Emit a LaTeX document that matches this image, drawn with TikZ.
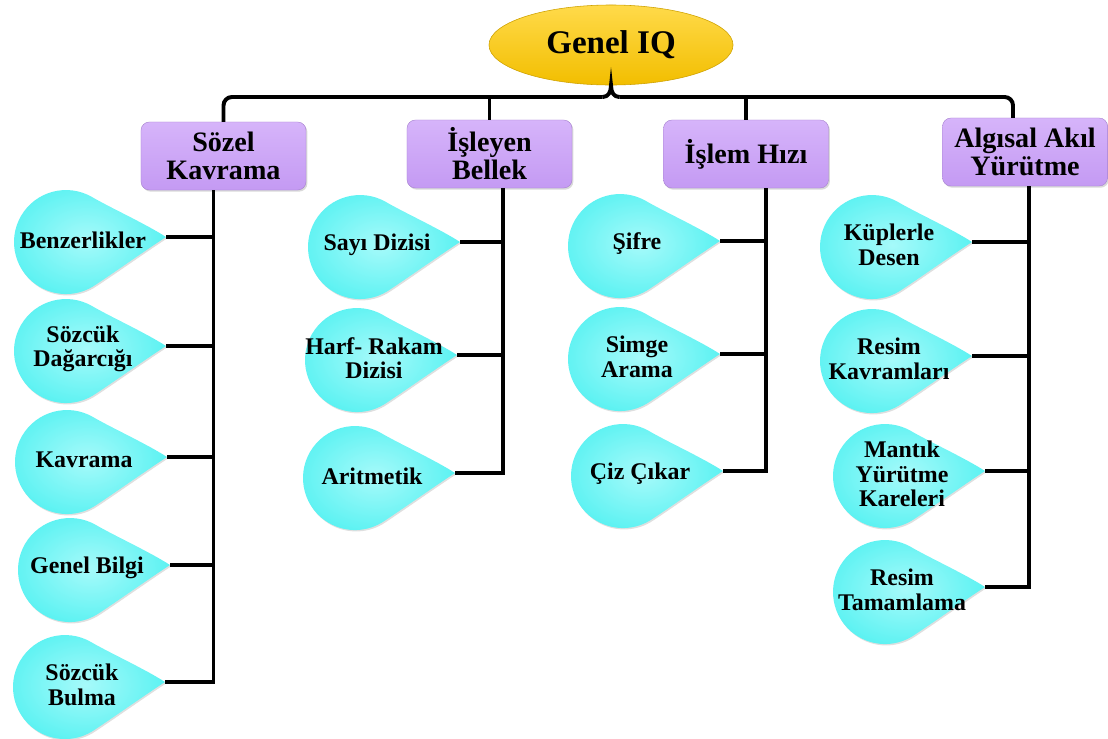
\documentclass[tikz,border=0pt]{standalone}
\usepackage{fontspec}
\setmainfont{Liberation Serif}
\usetikzlibrary{shapes.geometric,shadows,calc}
\definecolor{boxpurple}{HTML}{C49AF3}
\definecolor{boxlight}{HTML}{D6B4FA}
\definecolor{dropcyan}{HTML}{5CF2F2}
\definecolor{droplight}{HTML}{A6FAFA}
\definecolor{iqgold}{HTML}{F2BE00}
\definecolor{iqlight}{HTML}{FFDA4A}
\tikzset{
  link/.style={line width=2.8pt, black},
  head/.style={ellipse, draw=iqgold!85!black, line width=0.4pt, top color=iqlight, bottom color=iqgold,
    minimum width=6.1cm, minimum height=2cm, font=\fontsize{23.5}{24}\selectfont\bfseries},
  group/.style={rectangle, rounded corners=6pt, top color=boxlight, bottom color=boxpurple,
    draw=boxpurple!85!black, line width=0.3pt, drop shadow={opacity=0.3,shadow xshift=1pt,shadow yshift=-1.2pt},
    minimum width=4.125cm, minimum height=1.7cm, align=center, font=\fontsize{20}{20}\selectfont\bfseries},
  dropfill/.style={inner color=droplight, outer color=dropcyan,
    drop shadow={opacity=0.25,shadow xshift=0.8pt,shadow yshift=-1pt}},
  droptext/.style={align=center, inner sep=1pt, font=\fontsize{17}{17.5}\selectfont\bfseries},
  pics/drop/.style={code={
    \path[dropfill] (100,-5) .. controls (80,-18) and (43,-35) .. (26,-45) arc(-60:-305:52)
      .. controls (46,32) and (80,8) .. (100,-5) -- cycle;
    \node[droptext] (-txt) at (17,-2) {#1};
    \coordinate (-tip) at (100,-5);
  }}
}

\begin{document}
\begin{tikzpicture}[x=0.025cm, y=-0.025cm]
  \useasboundingbox (0,0) rectangle (1108,738);

  \node[head] (iq) at (611,45) {Genel IQ};
  \node[group] (sozel) at (223.5,156) {Sözel\\Kavrama};
  \node[group] (isleyen) at (489.5,154) {İşleyen\\Bellek};
  \node[group] (islem) at (746,154) {İşlem Hızı};
  \node[group] (algisal) at (1025,152) {Algısal Akıl\\Yürütme};

  % bus under the title
  \coordinate (bus) at (iq.south |- 0,97);
  \draw[link, rounded corners=6pt] (sozel.north) |- ([xshift=-6pt]bus);
  \draw[link] ([xshift=-6pt]bus) .. controls ([xshift=-2pt]bus) and ([yshift=-5pt]iq.south) .. (iq.south)
    .. controls ([yshift=-5pt]iq.south) and ([xshift=2pt]bus) .. ([xshift=6pt]bus);
  \draw[link, rounded corners=6pt] ([xshift=6pt]bus) -| ($(algisal.north)+(-12,0)$);
  \draw[link] (isleyen.north) -- (isleyen.north |- bus);
  \draw[link] (islem.north) -- (islem.north |- bus);

  \pic (benz) at (66,242) {drop={Benzerlikler}};
  \pic (dagar) at (66,351) {drop={Sözcük\\Dağarcığı}};
  \pic (kavr) at (67,462) {drop={Kavrama}};
  \pic (bilgi) at (70,570) {drop={Genel Bilgi}};
  \pic (bulma) at (65,687) {drop={Sözcük\\Bulma}};

  \pic (sayi) at (360,247) {drop={Sayı Dizisi}};
  \pic (harf) at (357,360) {drop={Harf- Rakam\\Dizisi}};
  \pic (arit) at (355,478) {drop={Aritmetik}};

  \pic (sifre) at (620,246) {drop={Şifre}};
  \pic (simge) at (620,359) {drop={Simge\\Arama}};
  \pic (ciz) at (623,476) {drop={Çiz Çıkar}};

  \pic (kup) at (872,247) {drop={Küplerle\\Desen}};
  \pic (rkavr) at (872,361) {drop={Resim\\Kavramları}};
  \pic (mantik) at (885,476) {drop={Mantık\\Yürütme\\Kareleri}};
  \pic (tamam) at (885,592) {drop={Resim\\Tamamlama}};

  % spines
  \coordinate (sozel-sp) at ($(sozel.south)+(-10,0)$);
  \draw[link] (sozel-sp) |- (bulma-tip);
  \foreach \d in {benz,dagar,kavr,bilgi}
    \draw[link] (\d-tip) -- (\d-tip -| sozel-sp);

  \coordinate (isleyen-sp) at ($(isleyen.south)+(13.5,0)$);
  \draw[link] (isleyen-sp) |- (arit-tip);
  \foreach \d in {sayi,harf}
    \draw[link] (\d-tip) -- (\d-tip -| isleyen-sp);

  \coordinate (islem-sp) at ($(islem.south)+(20,0)$);
  \draw[link] (islem-sp) |- (ciz-tip);
  \foreach \d in {sifre,simge}
    \draw[link] (\d-tip) -- (\d-tip -| islem-sp);

  \coordinate (algisal-sp) at ($(algisal.south)+(4,0)$);
  \draw[link] (algisal-sp) |- (tamam-tip);
  \foreach \d in {kup,rkavr,mantik}
    \draw[link] (\d-tip) -- (\d-tip -| algisal-sp);
\end{tikzpicture}
\end{document}
